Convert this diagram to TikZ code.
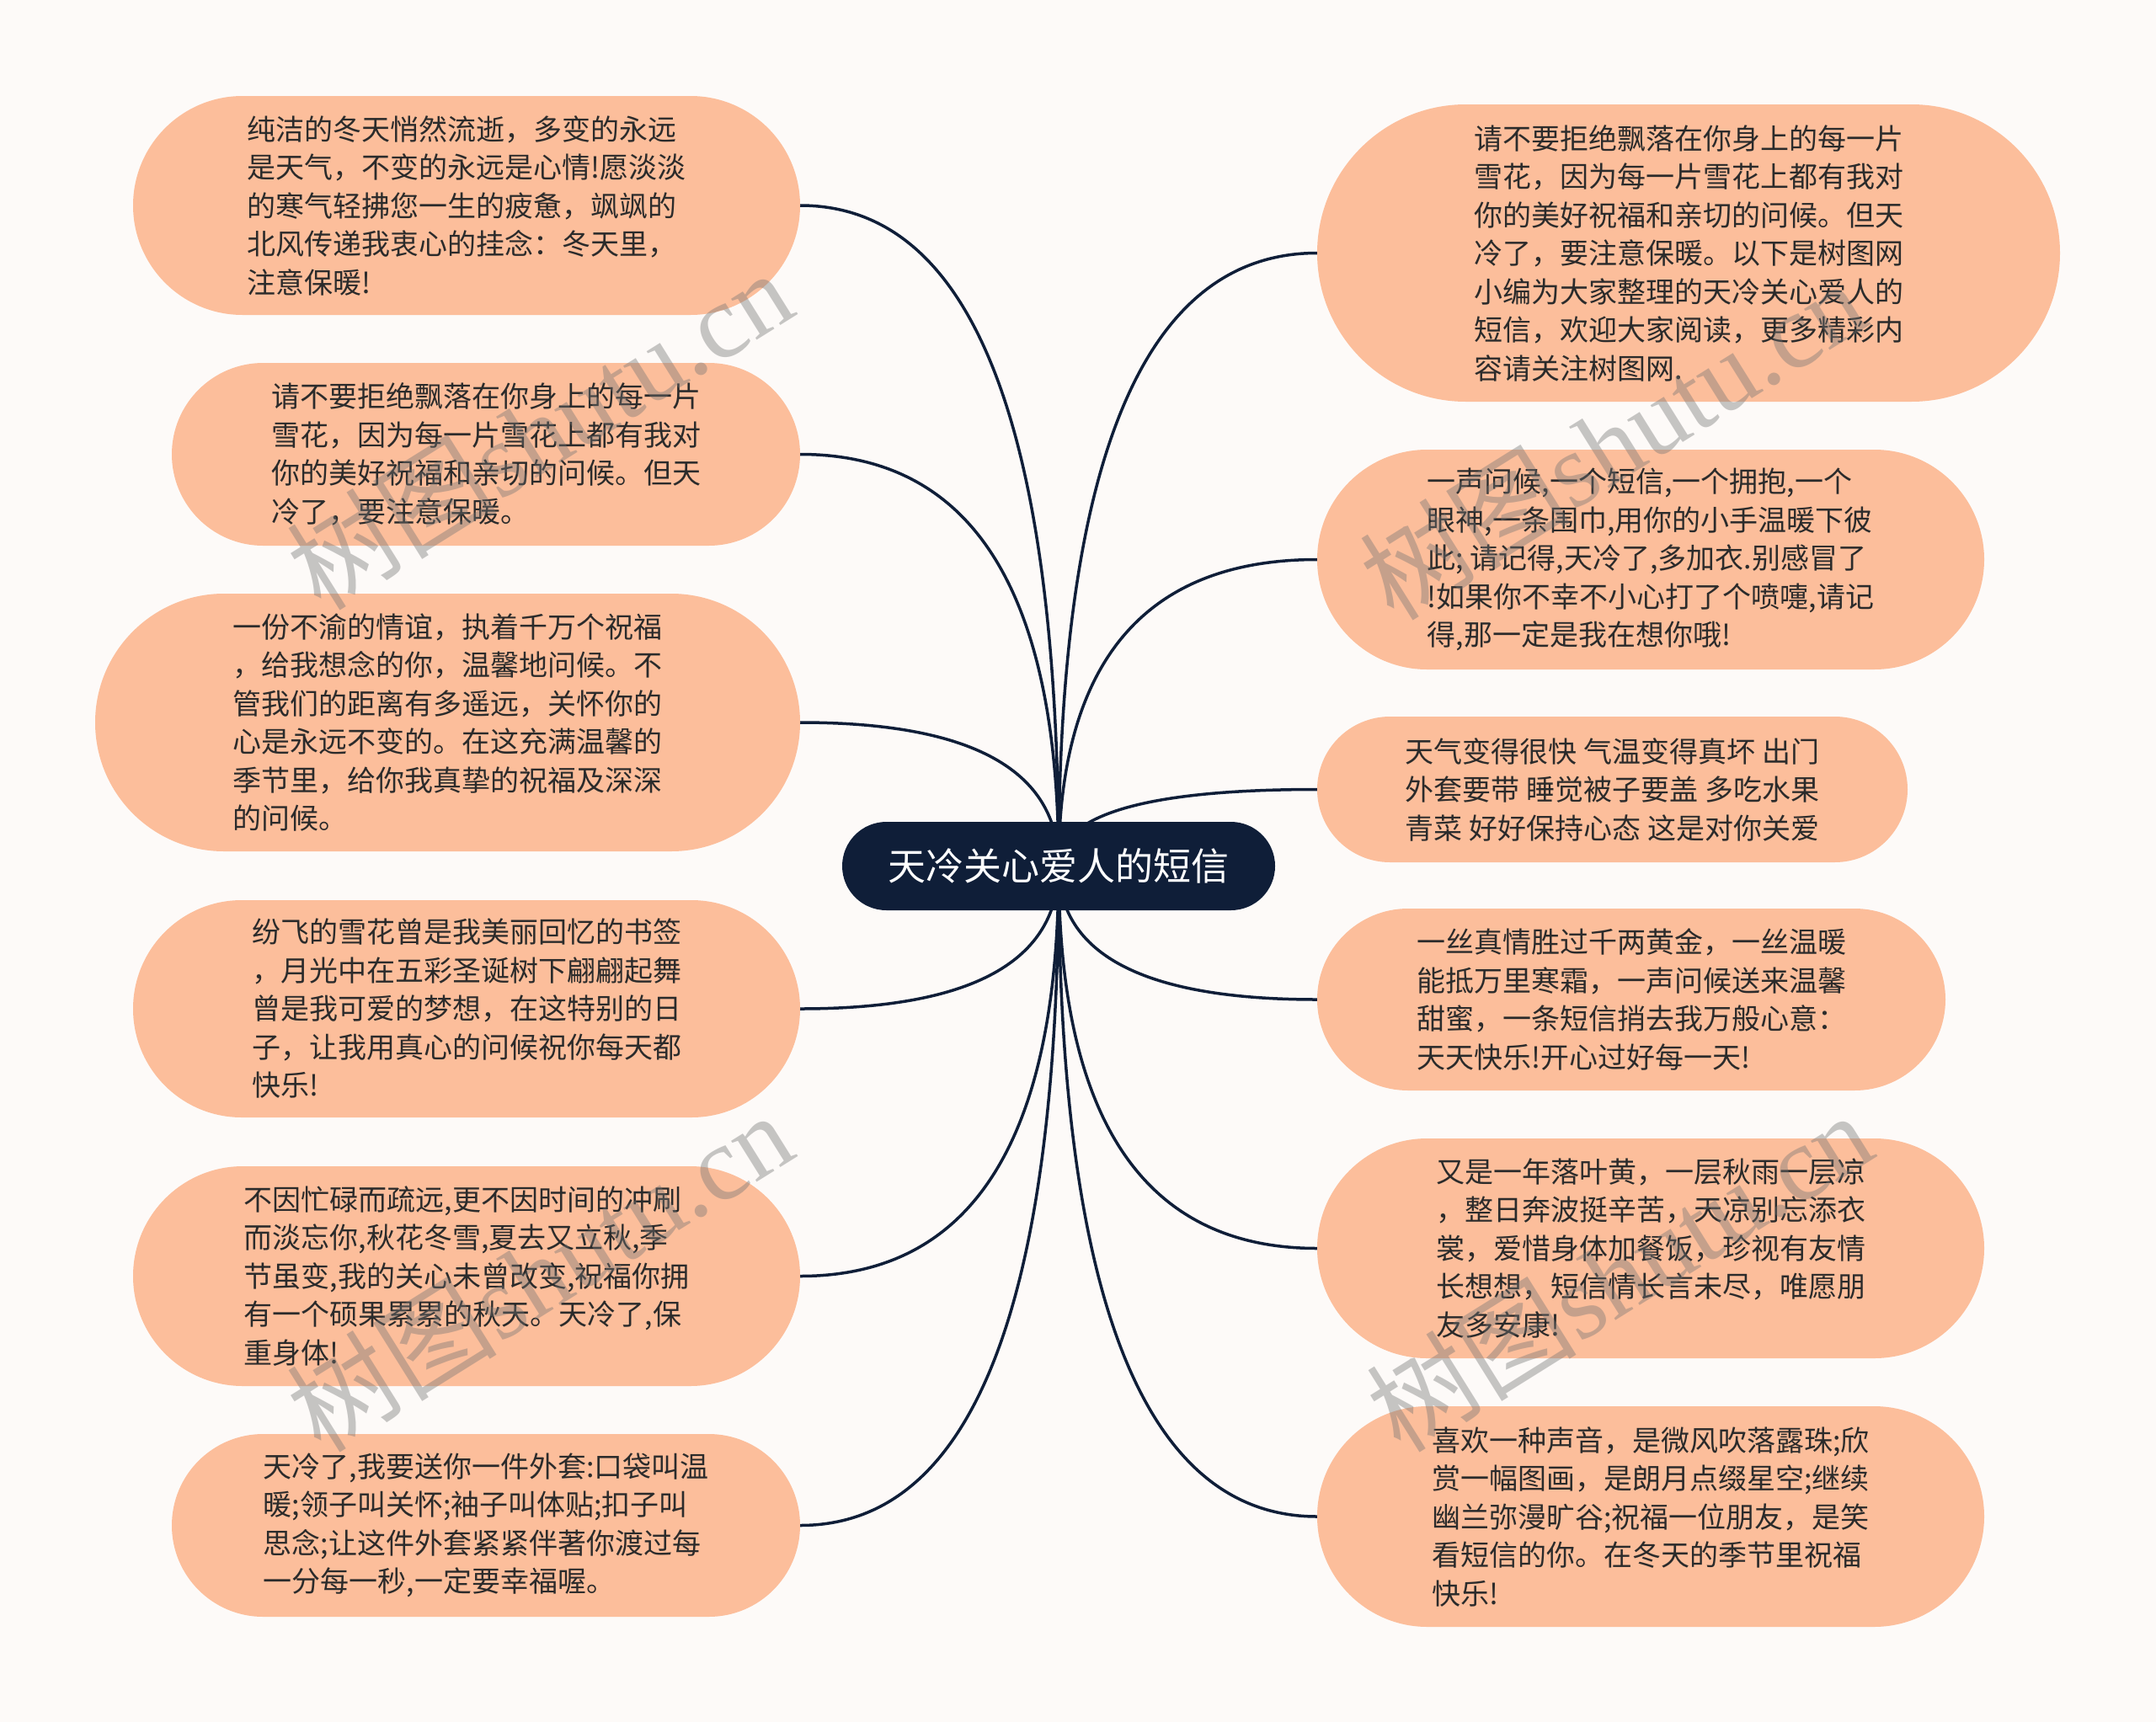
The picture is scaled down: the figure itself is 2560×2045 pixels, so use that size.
\documentclass[tikz,border=0pt]{standalone}
\usepackage{fontspec}
\setmainfont{Noto Sans CJK SC}
\newfontfamily\wmlatin{Liberation Serif}
\usetikzlibrary{calc}
\definecolor{bgc}{HTML}{FDFAF8}
\definecolor{peach}{HTML}{FCBE9B}
\definecolor{navy}{HTML}{0F1E38}
\definecolor{txt}{HTML}{2B2B2B}
\pgfdeclarelayer{bglayer}
\pgfdeclarelayer{lines}
\pgfsetlayers{bglayer,lines,main}
\tikzset{
  bubble/.style={fill=peach, draw=none, align=left, text=txt,
    font=\fontsize{34}{45.5}\selectfont, inner sep=0pt},
  root/.style={fill=navy, draw=none, text=white,
    font=\fontsize{45}{50}\selectfont, inner sep=0pt,
    minimum width=514pt, minimum height=105pt, rounded corners=52.5pt},
  conn/.style={draw=navy, line width=3.5pt},
  wm/.style={text=black!55, text opacity=0.4, inner sep=0pt,
    font=\fontsize{125}{125}\selectfont, rotate=32}
}
\begin{document}
\begin{tikzpicture}[x=1pt,y=-1pt]
\begin{pgfonlayer}{bglayer}
\fill[bgc] (0,0) rectangle (2560,2045);
\end{pgfonlayer}
\useasboundingbox (0,0) rectangle (2560,2045);

% central node
\node[root] (C) at (1257,1028.5) {天冷关心爱人的短信};

% left nodes
\node[bubble, minimum width=792pt, minimum height=260pt, rounded corners=130pt] (L1) at (554,244)
 {纯洁的冬天悄然流逝，多变的永远\\是天气，不变的永远是心情!愿淡淡\\的寒气轻拂您一生的疲惫，飒飒的\\北风传递我衷心的挂念：冬天里，\\注意保暖!};
\node[bubble, minimum width=746pt, minimum height=217pt, rounded corners=108.5pt] (L2) at (577,539.5)
 {请不要拒绝飘落在你身上的每一片\\雪花，因为每一片雪花上都有我对\\你的美好祝福和亲切的问候。但天\\冷了，要注意保暖。};
\node[bubble, minimum width=837pt, minimum height=306pt, rounded corners=153pt] (L3) at (531.5,858)
 {一份不渝的情谊，执着千万个祝福\\，给我想念的你，温馨地问候。不\\管我们的距离有多遥远，关怀你的\\心是永远不变的。在这充满温馨的\\季节里，给你我真挚的祝福及深深\\的问候。};
\node[bubble, minimum width=792pt, minimum height=258pt, rounded corners=129pt] (L4) at (554,1198)
 {纷飞的雪花曾是我美丽回忆的书签\\，月光中在五彩圣诞树下翩翩起舞\\曾是我可爱的梦想，在这特别的日\\子，让我用真心的问候祝你每天都\\快乐!};
\node[bubble, minimum width=792pt, minimum height=261pt, rounded corners=130.5pt] (L5) at (554,1515.5)
 {不因忙碌而疏远,更不因时间的冲刷\\而淡忘你,秋花冬雪,夏去又立秋,季\\节虽变,我的关心未曾改变,祝福你拥\\有一个硕果累累的秋天。天冷了,保\\重身体!};
\node[bubble, minimum width=746pt, minimum height=217pt, rounded corners=108.5pt] (L6) at (577,1811.5)
 {天冷了,我要送你一件外套:口袋叫温\\暖;领子叫关怀;袖子叫体贴;扣子叫\\思念;让这件外套紧紧伴著你渡过每\\一分每一秒,一定要幸福喔。};

% right nodes
\node[bubble, minimum width=882pt, minimum height=353pt, rounded corners=176.5pt] (R1) at (2005,300.5)
 {请不要拒绝飘落在你身上的每一片\\雪花，因为每一片雪花上都有我对\\你的美好祝福和亲切的问候。但天\\冷了，要注意保暖。以下是树图网\\小编为大家整理的天冷关心爱人的\\短信，欢迎大家阅读，更多精彩内\\容请关注树图网.};
\node[bubble, minimum width=792pt, minimum height=261pt, rounded corners=130.5pt] (R2) at (1960,664.5)
 {一声问候,一个短信,一个拥抱,一个\\眼神,一条围巾,用你的小手温暖下彼\\此; 请记得,天冷了,多加衣.别感冒了\\!如果你不幸不小心打了个喷嚏,请记\\得,那一定是我在想你哦!};
\node[bubble, minimum width=701pt, minimum height=173pt, rounded corners=86.5pt] (R3) at (1914.5,937.5)
 {天气变得很快 气温变得真坏 出门\\外套要带 睡觉被子要盖 多吃水果\\青菜 好好保持心态 这是对你关爱};
\node[bubble, minimum width=746pt, minimum height=216pt, rounded corners=108pt] (R4) at (1937,1187)
 {一丝真情胜过千两黄金，一丝温暖\\能抵万里寒霜，一声问候送来温馨\\甜蜜，一条短信捎去我万般心意：\\天天快乐!开心过好每一天!};
\node[bubble, minimum width=792pt, minimum height=261pt, rounded corners=130.5pt] (R5) at (1960,1482.5)
 {又是一年落叶黄，一层秋雨一层凉\\，整日奔波挺辛苦，天凉别忘添衣\\裳，爱惜身体加餐饭，珍视有友情\\长想想，短信情长言未尽，唯愿朋\\友多安康!};
\node[bubble, minimum width=792pt, minimum height=262pt, rounded corners=131pt] (R6) at (1960,1801)
 {喜欢一种声音，是微风吹落露珠;欣\\赏一幅图画，是朗月点缀星空;继续\\幽兰弥漫旷谷;祝福一位朋友，是笑\\看短信的你。在冬天的季节里祝福\\快乐!};

% connectors
\begin{pgfonlayer}{lines}
\foreach \t/\a in {L1/east,L2/east,L3/east,L4/east,L5/east,L6/east,R1/west,R2/west,R3/west,R4/west,R5/west,R6/west}{
  \coordinate (k\t) at (C.center |- \t.\a);
  \draw[conn] (C.center) .. controls ($(C.center)!2/3!(k\t)$) and ($(\t.\a)!2/3!(k\t)$) .. (\t.\a);
}
\end{pgfonlayer}

% watermarks
\node[wm] (w1) at (640,510) {树图{\wmlatin shutu.cn}};
\node[wm] (w2) at (1914,522) {树图{\wmlatin shutu.cn}};
\node[wm] (w3) at (640,1510) {树图{\wmlatin shutu.cn}};
\node[wm] (w4) at (1922,1510) {树图{\wmlatin shutu.cn}};
\end{tikzpicture}
\end{document}
